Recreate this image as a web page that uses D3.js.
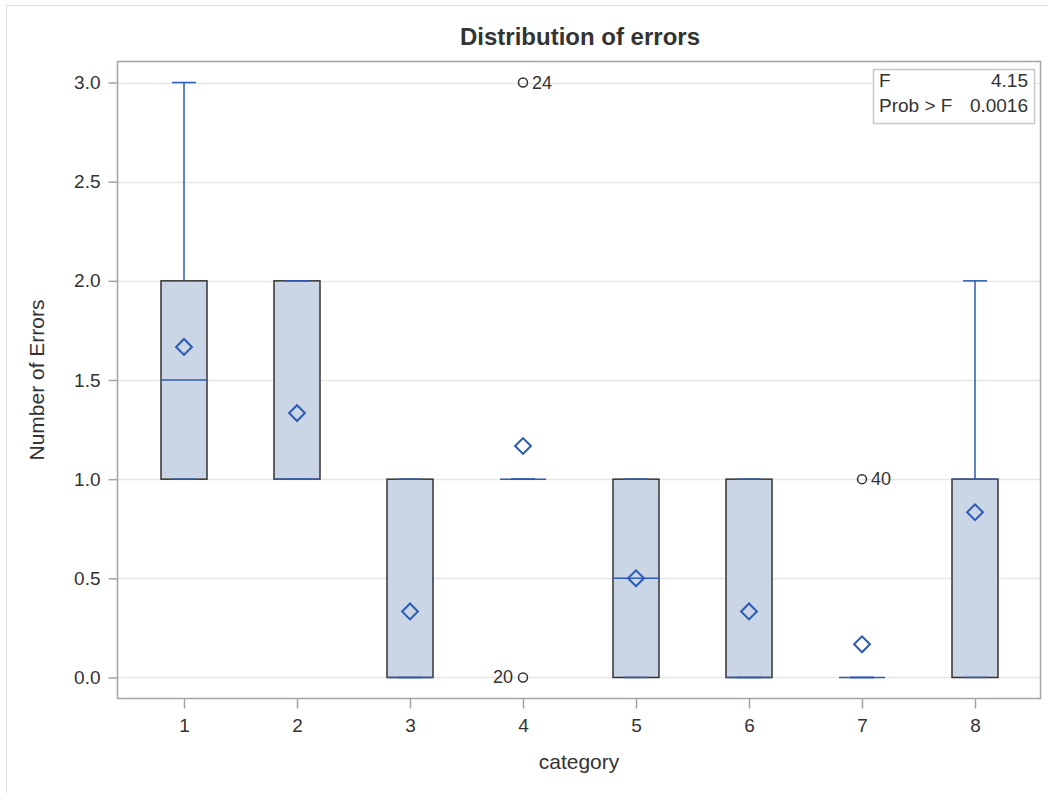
<!DOCTYPE html>
<html>
<head>
<meta charset="UTF-8">
<title>Distribution of errors</title>
<style>
  body { margin: 0; background: #fff; }
  text { font-family: "Liberation Sans", Arial, sans-serif; fill: #333; }
</style>
</head>
<body>
<div id="chart"></div>
<script src="https://cdn.jsdelivr.net/npm/d3@7"></script>
<script>
// box statistics per category
var categories = [1, 2, 3, 4, 5, 6, 7, 8];
var q1s      = [1, 1, 0, 1, 0,   0, 0, 0];
var medians  = [1.5, 1, 0, 1, 0.5, 0, 0, 1];
var q3s      = [2, 2, 1, 1, 1,   1, 0, 1];
var whiskLo  = [1, 1, 0, 1, 0,   0, 0, 0];
var whiskHi  = [3, 2, 1, 1, 1,   1, 0, 2];
var means    = [1.667, 1.333, 0.333, 1.167, 0.5, 0.333, 0.167, 0.833];
// outliers: category, value, obs label
var outCat   = [4, 4, 7];
var outVal   = [3, 0, 1];
var outLab   = ['24', '20', '40'];
var yTicks   = [0, 0.5, 1, 1.5, 2, 2.5, 3];
var statNames  = ['F', 'Prob > F'];
var statValues = ['4.15', '0.0016'];

var width = 1047, height = 793;
// plot area edges (top is reserved on window, so prefixed names)
var pLeft = 117.5, pRight = 1040.5, pTop = 61.5, pBottom = 698.5;

var svg = d3.select('#chart').append('svg')
    .attr('width', width).attr('height', height);

// outer frame
svg.append('rect').attr('x', 6.5).attr('y', 5.5)
    .attr('width', 1045).attr('height', 800)
    .attr('fill', 'none').attr('stroke', '#dcdcdc');

var x = d3.scalePoint().domain(categories).range([184, 975]);
var y = d3.scaleLinear().domain([-0.106, 3.106]).range([pBottom, pTop]);

// grid
svg.append('g').selectAll('line').data(yTicks).enter().append('line')
    .attr('x1', pLeft).attr('x2', pRight)
    .attr('y1', function (d) { return Math.round(y(d)) + 0.5; })
    .attr('y2', function (d) { return Math.round(y(d)) + 0.5; })
    .attr('stroke', '#e6e6e6').attr('stroke-width', 1.5);

// axes
var yAxis = d3.axisLeft(y).tickValues(yTicks).tickFormat(d3.format('.1f'))
    .tickSize(9).tickPadding(8);
var gy = svg.append('g').attr('transform', 'translate(' + pLeft + ',0)').call(yAxis);
var xAxis = d3.axisBottom(x).tickSize(10).tickPadding(10);
var gx = svg.append('g').attr('transform', 'translate(0,' + pBottom + ')').call(xAxis);
[gx, gy].forEach(function (g) {
  g.select('.domain').remove();
  g.selectAll('line').attr('stroke', '#a0a4a8').attr('stroke-width', 1.5);
  g.selectAll('text').attr('font-size', 19).attr('fill', '#333')
    .style('font-family', '"Liberation Sans", Arial, sans-serif');
});

var boxW = 46;
var blue = '#2c5bb5';
var idx = d3.range(categories.length);

// whiskers
var g = svg.append('g');
g.selectAll('.wh').data(idx).enter().append('line')
    .attr('x1', function (i) { return x(categories[i]); })
    .attr('x2', function (i) { return x(categories[i]); })
    .attr('y1', function (i) { return y(whiskHi[i]); })
    .attr('y2', function (i) { return y(q3s[i]); })
    .attr('stroke', blue).attr('stroke-width', 1.5);
g.selectAll('.wl').data(idx).enter().append('line')
    .attr('x1', function (i) { return x(categories[i]); })
    .attr('x2', function (i) { return x(categories[i]); })
    .attr('y1', function (i) { return y(whiskLo[i]); })
    .attr('y2', function (i) { return y(q1s[i]); })
    .attr('stroke', blue).attr('stroke-width', 1.5);

// boxes
g.selectAll('.box').data(idx.filter(function (i) { return q3s[i] > q1s[i]; }))
  .enter().append('rect')
    .attr('x', function (i) { return x(categories[i]) - boxW / 2; })
    .attr('y', function (i) { return y(q3s[i]); })
    .attr('width', boxW)
    .attr('height', function (i) { return y(q1s[i]) - y(q3s[i]); })
    .attr('fill', '#cad5e5').attr('stroke', '#333').attr('stroke-width', 1.5);

// whisker caps
[whiskHi, whiskLo].forEach(function (arr) {
  g.selectAll(null).data(idx).enter().append('line')
      .attr('x1', function (i) { return x(categories[i]) - 12; })
      .attr('x2', function (i) { return x(categories[i]) + 12; })
      .attr('y1', function (i) { return y(arr[i]); })
      .attr('y2', function (i) { return y(arr[i]); })
      .attr('stroke', blue).attr('stroke-width', 1.5);
});

// medians
g.selectAll('.med').data(idx).enter().append('line')
    .attr('x1', function (i) { return x(categories[i]) - boxW / 2; })
    .attr('x2', function (i) { return x(categories[i]) + boxW / 2; })
    .attr('y1', function (i) { return y(medians[i]); })
    .attr('y2', function (i) { return y(medians[i]); })
    .attr('stroke', blue).attr('stroke-width', 1.5);

// means (diamonds)
var diamond = d3.symbol().type(d3.symbolSquare).size(125);
g.selectAll('.mean').data(idx).enter().append('path')
    .attr('d', diamond)
    .attr('transform', function (i) {
      return 'translate(' + x(categories[i]) + ',' + y(means[i]) + ') rotate(45)';
    })
    .attr('fill', 'none').attr('stroke', blue).attr('stroke-width', 2);

// outliers
var oi = d3.range(outCat.length);
g.selectAll('.out').data(oi).enter().append('circle')
    .attr('cx', function (i) { return x(outCat[i]); })
    .attr('cy', function (i) { return y(outVal[i]); })
    .attr('r', 4.5)
    .attr('fill', 'none').attr('stroke', '#333').attr('stroke-width', 1.5);
g.selectAll('.outl').data(oi).enter().append('text')
    .attr('x', function (i) { return x(outCat[i]) + (outVal[i] === 0 ? -10 : 9); })
    .attr('y', function (i) { return y(outVal[i]) + 6; })
    .attr('text-anchor', function (i) { return outVal[i] === 0 ? 'end' : 'start'; })
    .attr('font-size', 18)
    .text(function (i) { return outLab[i]; });

// plot frame
svg.append('rect').attr('x', pLeft).attr('y', pTop)
    .attr('width', pRight - pLeft).attr('height', pBottom - pTop)
    .attr('fill', 'none').attr('stroke', '#a0a4a8').attr('stroke-width', 1.5);

// stats inset
var ins = svg.append('g');
ins.append('rect').attr('x', 873.5).attr('y', 69.5).attr('width', 161).attr('height', 54)
    .attr('fill', '#fff').attr('stroke', '#c8c8c8').attr('stroke-width', 1.5);
statNames.forEach(function (n, i) {
  ins.append('text').attr('x', 879).attr('y', 87 + i * 25).attr('font-size', 19).text(n);
  ins.append('text').attr('x', 1028).attr('y', 87 + i * 25).attr('font-size', 19)
      .attr('text-anchor', 'end').text(statValues[i]);
});

// titles
svg.append('text').attr('x', 580).attr('y', 45).attr('text-anchor', 'middle')
    .attr('font-size', 24).attr('font-weight', 'bold').attr('fill', '#000')
    .text('Distribution of errors');
svg.append('text').attr('x', 579).attr('y', 769).attr('text-anchor', 'middle')
    .attr('font-size', 21).text('category');
svg.append('text').attr('transform', 'translate(44,380) rotate(-90)')
    .attr('text-anchor', 'middle').attr('font-size', 21).text('Number of Errors');
</script>
</body>
</html>
